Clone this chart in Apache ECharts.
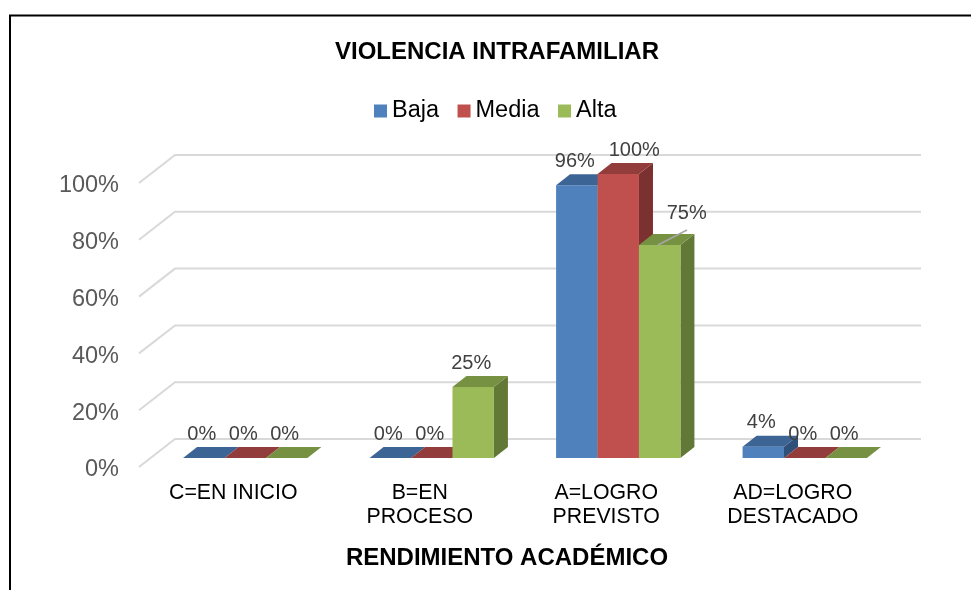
<!DOCTYPE html>
<html><head><meta charset="utf-8">
<style>html,body{margin:0;padding:0;background:#fff}#c{width:971px;height:590px}</style>
<script src="https://cdn.jsdelivr.net/npm/echarts@6/dist/echarts.min.js"></script>
</head><body><div id="c"></div>
<script>
const categories = ['C=EN INICIO', 'B=EN\nPROCESO', 'A=LOGRO\nPREVISTO', 'AD=LOGRO\nDESTACADO'];
const baja  = [0, 0, 96, 4];
const media = [0, 0, 100, 0];
const alta  = [0, 25, 75, 0];
const yTicks = [0, 20, 40, 60, 80, 100];

const FONT = '"Liberation Sans", Arial, sans-serif';
const palette = [
  {name: 'Baja',  face: '#4F81BD', top: '#3C6494', side: '#2F5078'},
  {name: 'Media', face: '#C0504D', top: '#923D3B', side: '#7B3130'},
  {name: 'Alta',  face: '#9BBB59', top: '#779143', side: '#627836'}
];
const DX = 14, DY = -11;          // bar depth on screen
const barRatio = 1 / 4.5;         // gap width 50%

const chart = echarts.init(document.getElementById('c'), null, {renderer: 'canvas'});

function barSeries(idx, values) {
  const p = palette[idx];
  return {
    name: p.name, type: 'custom', coordinateSystem: 'cartesian2d', z: 5,
    itemStyle: {color: p.face},
    encode: {x: 0, y: 1},
    data: values.map((v, i) => [i, v]),
    clip: false,
    renderItem(params, api) {
      const cat = api.value(0), val = api.value(1);
      const base = api.coord([cat, 0]);
      const top = api.coord([cat, val]);
      const bw = api.size([1, 0])[0] * barRatio;
      const x0 = base[0] + (idx - 1.5) * bw, x1 = x0 + bw;
      const y0 = base[1], y1 = top[1];
      let lx = (x0 + x1) / 2 - 2, ly = y1 - 24;
      let children = [];
      children.push({type: 'polygon', shape: {points: [[x1, y0], [x1 + DX, y0 + DY], [x1 + DX, y1 + DY], [x1, y1]]}, style: {fill: p.side}});
      children.push({type: 'rect', shape: {x: x0, y: y1, width: bw, height: y0 - y1}, style: {fill: p.face}});
      children.push({type: 'polygon', shape: {points: [[x0, y1], [x0 + DX, y1 + DY], [x1 + DX, y1 + DY], [x1, y1]]}, style: {fill: p.top}});
      // hand-moved labels of the original chart
      if (idx === 1 && cat === 2) lx += 18;
      if (idx === 2 && cat === 2) {
        lx += 29; ly -= 8;
        children.push({type: 'line', shape: {x1: x0 + 19, y1: y1, x2: x0 + 48, y2: y1 - 15}, style: {stroke: '#A6A6A6', lineWidth: 1.5}});
      }
      children.push({type: 'text', z2: 50, style: {text: val + '%', x: lx, y: ly, align: 'center', verticalAlign: 'middle', fill: '#404040', font: '20px ' + FONT}});
      return {type: 'group', children};
    }
  };
}

const option = {
  animation: false,
  backgroundColor: '#fff',
  title: [
    {text: 'VIOLENCIA INTRAFAMILIAR', left: 492, top: 35, textAlign: 'center',
     textStyle: {fontFamily: FONT, fontWeight: 'bold', fontSize: 24, color: '#000'}},
    {text: 'RENDIMIENTO ACADÉMICO', left: 502, top: 541, textAlign: 'center',
     textStyle: {fontFamily: FONT, fontWeight: 'bold', fontSize: 24, color: '#000'}}
  ],
  legend: {
    left: 369, top: 94, icon: 'rect', itemWidth: 13, itemHeight: 13, itemGap: 18.5,
    data: palette.map(p => p.name),
    textStyle: {fontFamily: FONT, fontSize: 23.5, color: '#000'}
  },
  grid: {left: 152, width: 746, top: 174, height: 284, containLabel: false},
  xAxis: {
    type: 'category', data: categories,
    axisLine: {show: false}, axisTick: {show: false}, splitLine: {show: false},
    axisLabel: {interval: 0, fontFamily: FONT, fontSize: 21.3, lineHeight: 24, color: '#000', margin: 23, padding: [0, 24, 0, 0]}
  },
  yAxis: {
    type: 'value', min: 0, max: 100, interval: 20,
    axisLine: {show: false}, axisTick: {show: false}, splitLine: {show: false},
    axisLabel: {fontFamily: FONT, fontSize: 23.5, color: '#595959', margin: 33, verticalAlign: 'top', lineHeight: 24, formatter: '{value}%'}
  },
  graphic: [{type: 'polyline', z: -1, shape: {points: [[10, 590], [10, 15.5], [971, 15.5]]}, style: {fill: 'none', stroke: '#000', lineWidth: 2}}],
  series: [
    {
      type: 'custom', coordinateSystem: 'cartesian2d', z: 1, silent: true, clip: false,
      data: yTicks.map(v => [0, v]), encode: {x: 0, y: 1},
      renderItem(params, api) {
        const y = api.coord([0, api.value(1)])[1];
        const g = params.coordSys;
        return {type: 'polyline', shape: {points: [[g.x - 13, y + 9], [g.x + 23, y - 19], [g.x + g.width + 23, y - 19]]},
          style: {fill: 'none', stroke: '#D9D9D9', lineWidth: 2}};
      }
    },
    barSeries(0, baja), barSeries(1, media), barSeries(2, alta)
  ]
};
chart.setOption(option);
</script></body></html>
